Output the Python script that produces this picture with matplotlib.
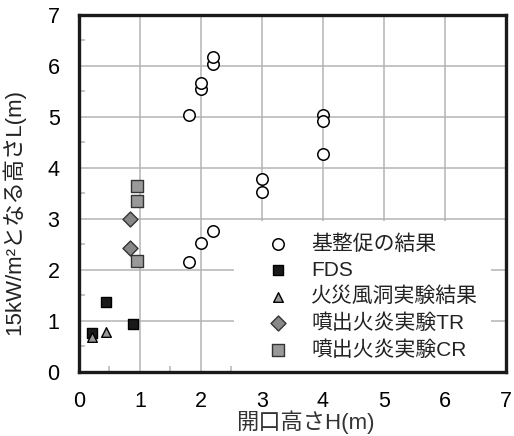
import matplotlib
matplotlib.use("Agg")
import matplotlib.pyplot as plt
from matplotlib.ticker import MultipleLocator

plt.rcParams['font.family'] = ['Liberation Sans', 'Noto Sans CJK JP']

# 基整促の結果
kiseisoku_x = [1.8, 2.0, 2.0, 2.2, 2.2, 3.0, 3.0, 4.0, 4.0, 4.0, 1.8, 2.0, 2.2]
kiseisoku_y = [5.03, 5.55, 5.67, 6.04, 6.17, 3.78, 3.52, 5.04, 4.92, 4.28, 2.15, 2.52, 2.77]

# FDS
fds_x = [0.45, 0.88, 0.22]
fds_y = [1.38, 0.95, 0.76]

# 火災風洞実験結果
wind_x = [0.45, 0.22]
wind_y = [0.78, 0.68]

# 噴出火炎実験TR
tr_x = [0.83, 0.83]
tr_y = [3.0, 2.44]

# 噴出火炎実験CR
cr_x = [0.95, 0.95, 0.95]
cr_y = [3.64, 3.36, 2.17]

fig = plt.figure(figsize=(5.14, 4.36), dpi=100)
ax = fig.add_axes([0.1537, 0.1468, 0.8303, 0.8188])

ax.scatter(kiseisoku_x, kiseisoku_y, s=68, facecolor='white', edgecolor='black',
           linewidth=1.1, marker='o', label='基整促の結果', zorder=3)
ax.scatter(fds_x, fds_y, s=42, facecolor='#1a1a1a', edgecolor='black',
           marker='s', label='FDS', zorder=3)
ax.scatter(wind_x, wind_y, s=48, facecolor='#999999', edgecolor='black',
           linewidth=1.0, marker='^', label='火災風洞実験結果', zorder=3)
ax.scatter(tr_x, tr_y, s=58, facecolor='#888888', edgecolor='#333333',
           linewidth=1.0, marker='D', label='噴出火炎実験TR', zorder=3)
ax.scatter(cr_x, cr_y, s=70, facecolor='#999999', edgecolor='#333333',
           linewidth=1.0, marker='s', label='噴出火炎実験CR', zorder=3)

ax.set_xlim(0, 7)
ax.set_ylim(0, 7)
ax.xaxis.set_major_locator(MultipleLocator(1))
ax.yaxis.set_major_locator(MultipleLocator(1))
ax.xaxis.set_minor_locator(MultipleLocator(0.5))
ax.yaxis.set_minor_locator(MultipleLocator(0.5))
ax.grid(True, which='major', color='#b4b4b4', linewidth=1.1, zorder=0)
ax.set_axisbelow(True)
ax.tick_params(which='major', direction='in', length=0, labelsize=15.5, pad=14)
ax.tick_params(which='minor', direction='in', length=4, color='#b4b4b4', width=1.1)

for sp in ax.spines.values():
    sp.set_linewidth(2.4)
    sp.set_color('#1a1a1a')

ax.set_xlabel('開口高さH(m)', fontsize=16, color='#333333')
ax.set_ylabel('15kW/m²となる高さL(m)', fontsize=16, color='#222222')
ax.xaxis.set_label_coords(0.53, -0.108, transform=ax.transAxes)
ax.yaxis.set_label_coords(-0.127, 0.448, transform=ax.transAxes)

leg = ax.legend(loc='lower right', bbox_to_anchor=(0.965, 0.0), borderaxespad=0,
                fontsize=15, frameon=True, fancybox=False, edgecolor='none',
                framealpha=1, markerscale=1.0, borderpad=0.6, handlelength=3.0,
                handletextpad=0.1, labelspacing=0.34)
leg.set_zorder(2)
for t in leg.get_texts():
    t.set_color('#222222')

fig.savefig('out.png', dpi=100)
